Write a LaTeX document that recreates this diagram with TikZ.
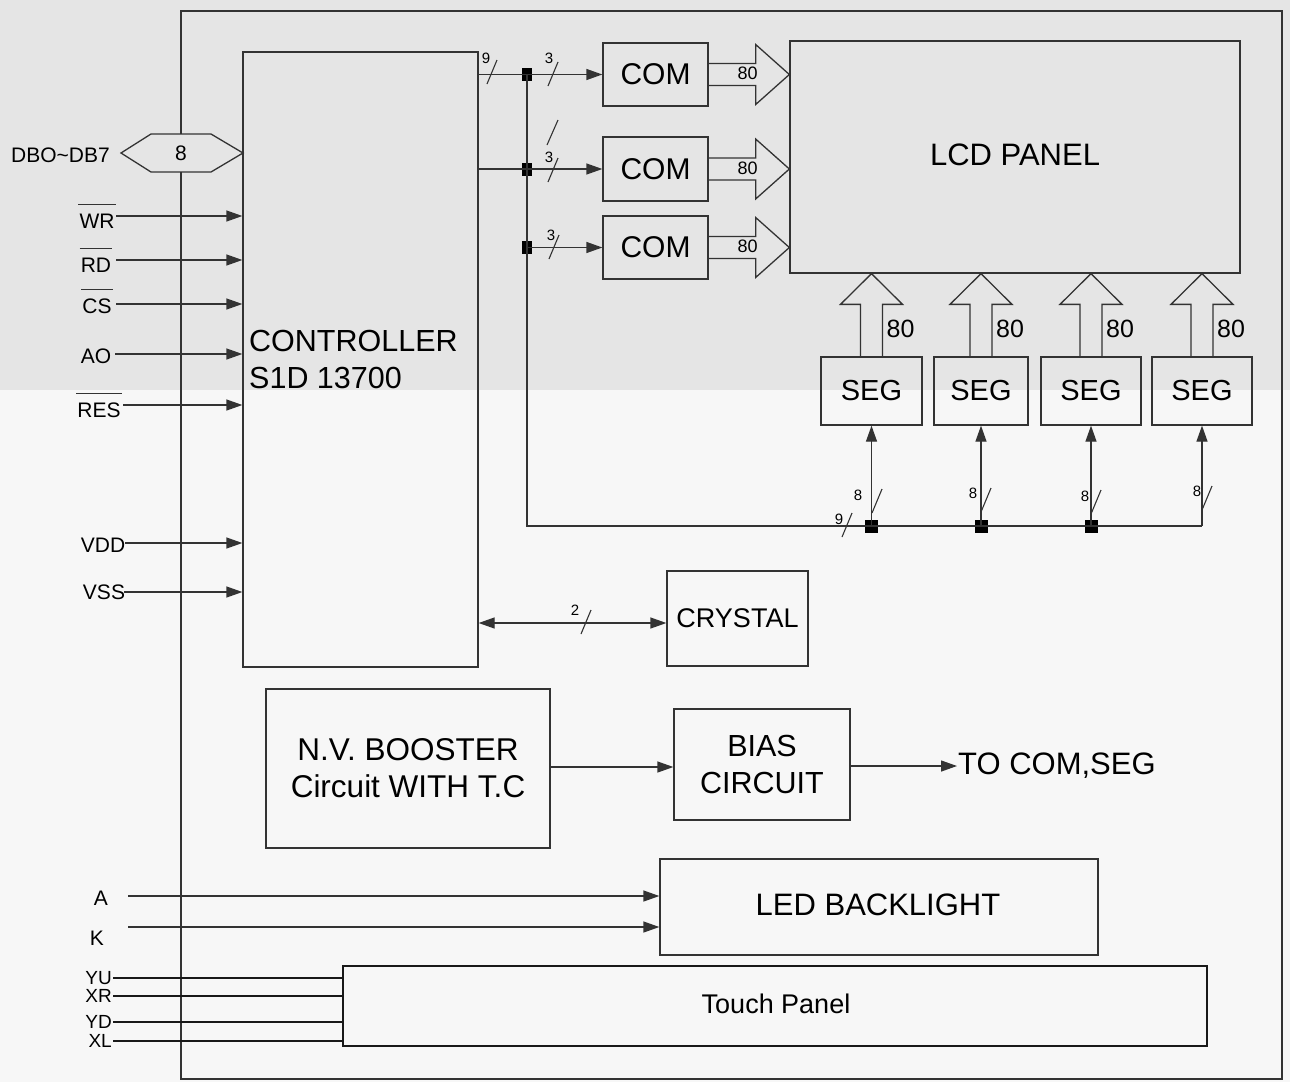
\documentclass[tikz,border=0pt]{standalone}
\usepackage{fontspec}
\setmainfont{Liberation Sans}
\usetikzlibrary{arrows.meta,calc}
\newcommand\tk[6]{%
  \draw[tkline] ($(#1,#2)+(-5,12)$) -- ($(#1,#2)+(5,-12)$);
  \node[tkl] (#6) at (#3,#4) {#5};}
\begin{document}
\begin{tikzpicture}[x=1pt,y=-1pt,
  ln/.style={draw=black!80, line width=1.3pt},
  box/.style={ln, rectangle, inner sep=0pt},
  arr/.style={ln, -{Triangle[length=16pt,width=11pt]}},
  darr/.style={ln, {Triangle[length=16pt,width=11pt]}-{Triangle[length=16pt,width=11pt]}},
  fat/.style={ln, line join=miter},
  junc/.style={fill=black, rectangle, inner sep=0pt, minimum width=10pt, minimum height=13pt},
  bjunc/.style={fill=black, rectangle, inner sep=0pt, minimum size=13pt},
  sl/.style={font=\fontsize{21}{24}\selectfont, inner sep=1pt},
  tl/.style={font=\fontsize{19}{22}\selectfont, inner sep=1pt},
  ovl/.style={draw=black!80, line width=1.4pt},
  tkline/.style={draw=black!80, line width=1.1pt},
  tkl/.style={font=\fontsize{15}{17}\selectfont, inner sep=0pt},
  big/.style={font=\fontsize{30}{37}\selectfont, align=center},
  mid/.style={font=\fontsize{29}{37}\selectfont, align=center},
  lg/.style={font=\fontsize{31}{37}\selectfont, align=center},
  touchline/.style={draw=black!90, line width=2.2pt},
]
\useasboundingbox (0,0) rectangle (1290,1082);
\fill[black!10] (0,0) rectangle (1290,390);
\fill[black!3] (0,390) rectangle (1290,1082);

% data bus hexagon on the left frame edge
\node[font=\fontsize{21}{24}\selectfont, inner sep=0pt] (hex) at (181,153) {8};
\draw[ln, line join=miter] (121,153) -- (151,134) -- (211,134) -- (243,153) -- (211,172) -- (151,172) -- cycle;
\node[sl, anchor=east] (db) at (111,155) {DBO\textasciitilde DB7};

% frame
\draw[ln] (181,134) -- (181,11) -- (1282,11) -- (1282,1079) -- (181,1079) -- (181,172);

% controller
\node[box, minimum width=235pt, minimum height=615pt] (ctrl) at (360.5,359.5) {};
\node[font=\fontsize{30.5}{37}\selectfont, anchor=base west, inner sep=0pt] (ct1) at (249,351) {CONTROLLER};
\node[font=\fontsize{30.5}{37}\selectfont, anchor=base west, inner sep=0pt] (ct2) at (249,388) {S1D 13700};

% control inputs
\node[sl] (wr) at (97,221) {WR};
\draw[ovl] ([yshift=8pt]wr.north west) -- ([yshift=8pt]wr.north east);
\coordinate (wrs) at (116,216);
\draw[arr] (wrs) -- (wrs -| ctrl.west);
\node[sl] (rd) at (96,265) {RD};
\draw[ovl] ([yshift=8pt]rd.north west) -- ([yshift=8pt]rd.north east);
\coordinate (rds) at (116,260);
\draw[arr] (rds) -- (rds -| ctrl.west);
\node[sl] (cs) at (97,306) {CS};
\draw[ovl] ([yshift=8pt]cs.north west) -- ([yshift=8pt]cs.north east);
\coordinate (css) at (116,304);
\draw[arr] (css) -- (css -| ctrl.west);
\node[sl] (ao) at (96,356) {AO};
\coordinate (aos) at (115,354);
\draw[arr] (aos) -- (aos -| ctrl.west);
\node[sl] (res) at (99,410) {RES};
\draw[ovl] ([yshift=8pt]res.north west) -- ([yshift=8pt]res.north east);
\coordinate (ress) at (123,405);
\draw[arr] (ress) -- (ress -| ctrl.west);
\node[sl] (vdd) at (103,545) {VDD};
\coordinate (vdds) at (125,543);
\draw[arr] (vdds) -- (vdds -| ctrl.west);
\node[sl] (vss) at (104,592) {VSS};
\coordinate (vsss) at (124,592);
\draw[arr] (vsss) -- (vsss -| ctrl.west);

% COM drivers and LCD
\node[box, big, minimum width=105pt, minimum height=63pt] (com1) at (655.5,74.5) {COM};
\node[box, big, minimum width=105pt, minimum height=64pt] (com2) at (655.5,169) {COM};
\node[box, big, minimum width=105pt, minimum height=63pt] (com3) at (655.5,247.5) {COM};
\node[box, minimum width=450pt, minimum height=232pt] (lcd) at (1015,157) {};
\node[lg, inner sep=0pt] (lcdt) at (1015,155) {LCD PANEL};

\node[junc] (jc1) at (527,74.5) {};
\node[junc] (jc2) at (527,169) {};
\node[junc] (jc3) at (527,247.5) {};
\draw[ln] (ctrl.east |- jc1) -- (jc1.center);
\draw[ln] (ctrl.east |- jc2) -- (jc2.center);
\draw[arr] (jc1.center) -- (com1.west);
\draw[arr] (jc2.center) -- (com2.west);
\draw[arr] (jc3.center) -- (com3.west);

\foreach \c/\n in {com1/a,com2/b,com3/c}{
  \draw[fat] ($(\c.east)+(0,-11)$) -- ++(47,0) -- ++(0,-19) -- (lcd.west |- \c.east)
     -- ($(\c.east)+(47,30)$) -- ++(0,-19) -- ++(-47,0);
  \node[font=\fontsize{18}{20}\selectfont, inner sep=0pt] (e\n) at ($(\c.east)+(39,-1)$) {80};
}

\tk{492}{72}{486}{58}{9}{t9a}
\tk{553}{74}{549}{58}{3}{t3a}
\tk{553}{170}{549}{157}{3}{t3b}
\draw[tkline] (547,145) -- (558,120);
\tk{554}{247}{551}{235}{3}{t3c}

% SEG drivers
\node[box, mid, minimum width=101pt, minimum height=68pt] (seg1) at (871.5,391) {SEG};
\node[box, mid, minimum width=94pt, minimum height=68pt] (seg2) at (981,391) {SEG};
\node[box, mid, minimum width=100pt, minimum height=68pt] (seg3) at (1091,391) {SEG};
\node[box, mid, minimum width=100pt, minimum height=68pt] (seg4) at (1202,391) {SEG};
\foreach \s/\n in {seg1/a,seg2/b,seg3/c,seg4/d}{
  \draw[fat] ($(\s.north)+(-11,0)$) -- ++(0,-52) -- ++(-20,0) -- (\s.north |- lcd.south)
     -- ($(\s.north)+(31,-52)$) -- ++(-20,0) -- ++(0,52);
  \node[font=\fontsize{25}{28}\selectfont, inner sep=0pt] (s\n) at ($(\s.north)+(29,-27)$) {80};
}

% SEG bus
\node[bjunc] (js1) at (871.5,526) {};
\node[bjunc] (js2) at (981,526) {};
\node[bjunc] (js3) at (1091,526) {};
\coordinate (c4) at (1202,526);
\coordinate (bb) at (820,526);
\draw[ln] (jc1.center) -- (jc3.center) -- (jc3 |- js1) -- (bb);
\draw[ln, line width=2.4pt] (bb) -- (c4);
\draw[arr] (js1.center) -- (seg1.south);
\draw[arr] (js2.center) -- (seg2.south);
\draw[arr] (js3.center) -- (seg3.south);
\draw[arr] (c4) -- (seg4.south);
\tk{877}{501}{858}{495}{8}{t8a}
\tk{986}{500}{973}{493}{8}{t8b}
\tk{1096}{502}{1085}{496}{8}{t8c}
\tk{1207}{498}{1197}{491}{8}{t8d}
\tk{847}{525}{839}{519}{9}{t9b}

% crystal
\node[box, font=\fontsize{27}{30}\selectfont, minimum width=141pt, minimum height=95pt] (xtal) at (737.5,618.5) {CRYSTAL};
\draw[darr] (ctrl.east |- 0,623) -- (xtal.west |- 0,623);
\tk{586}{622}{575}{610}{2}{t2}

% booster and bias
\node[box, font=\fontsize{31.5}{37}\selectfont, align=center, minimum width=284pt, minimum height=159pt] (boost) at (408,768.5) {N.V. BOOSTER\\Circuit WITH T.C};
\node[box, font=\fontsize{30.5}{37}\selectfont, align=center, minimum width=176pt, minimum height=111pt] (bias) at (762,764.5) {BIAS\\CIRCUIT};
\node[lg, anchor=west, inner sep=1pt] (tocom) at (957,766) {TO COM,SEG};
\draw[arr] (boost.east |- 0,767) -- (bias.west |- 0,767);
\draw[arr] (bias.east |- 0,766) -- (tocom.west);

% LED backlight
\node[box, minimum width=438pt, minimum height=96pt] (led) at (879,907) {};
\node[lg, inner sep=0pt] (ledt) at (878,905) {LED BACKLIGHT};
\node[sl] (la) at (101,898) {A};
\node[sl] (lk) at (97,938) {K};
\coordinate (as) at (128,896);
\coordinate (ks) at (128,927);
\draw[arr] (as) -- (as -| led.west);
\draw[arr] (ks) -- (ks -| led.west);

% touch panel
\node[draw=black!90, line width=2pt, rectangle, inner sep=0pt, minimum width=864pt, minimum height=80pt] (touch) at (775,1006) {};
\node[font=\fontsize{27}{30}\selectfont, inner sep=0pt] (toucht) at (776,1004) {Touch Panel};
\node[tl, anchor=east] (yu) at (113,978) {YU};
\node[tl, anchor=east] (xr) at (113,996) {XR};
\node[tl, anchor=east] (yd) at (113,1022) {YD};
\node[tl, anchor=east] (xl) at (113,1041) {XL};
\foreach \p in {yu,xr,yd,xl}{
  \draw[touchline] (\p.east) -- (\p.east -| touch.west);
}
\end{tikzpicture}
\end{document}
